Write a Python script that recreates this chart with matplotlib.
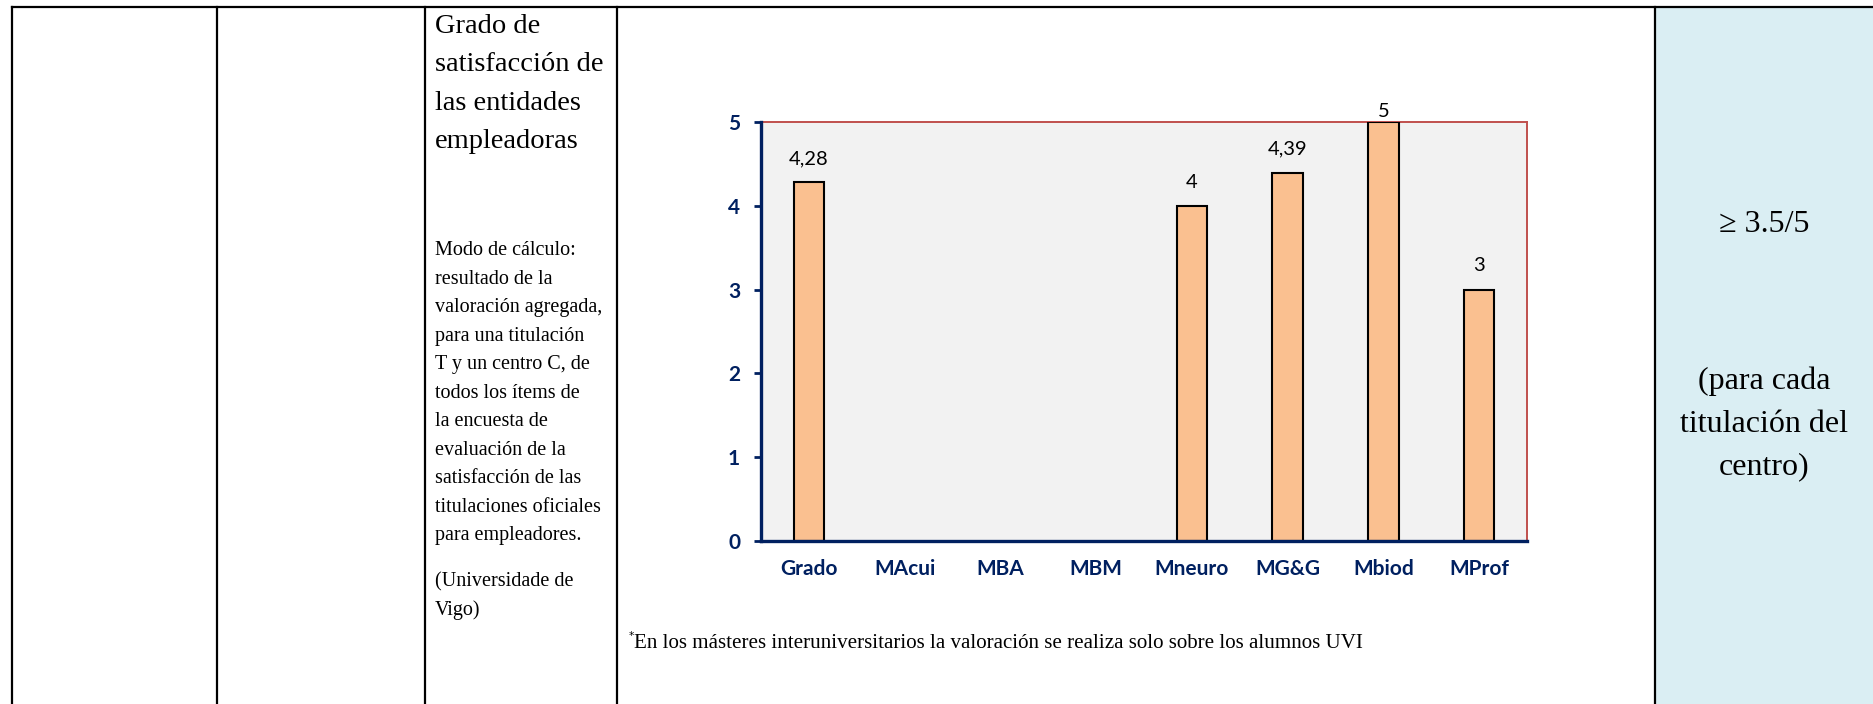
import numpy as np
import matplotlib
matplotlib.use("Agg")
from matplotlib import pyplot as plt
from matplotlib.patches import Rectangle

# data
categories = ["Grado", "MAcui", "MBA", "MBM", "Mneuro", "MG&G", "Mbiod", "MProf"]
values = [4.28, np.nan, np.nan, np.nan, 4.0, 4.39, 5.0, 3.0]
value_labels = ["4,28", "", "", "", "4", "4,39", "5", "3"]
y_ticks = [0, 1, 2, 3, 4, 5]

title_text = "Grado de\nsatisfacción de\nlas entidades\nempleadoras"
body_text = ("Modo de cálculo:\nresultado de la\nvaloración agregada,\npara una titulación\n"
             "T y un centro C, de\ntodos los ítems de\nla encuesta de\nevaluación de la\n"
             "satisfacción de las\ntitulaciones oficiales\npara empleadores.")
source_text = "(Universidade de\nVigo)"
footnote = "En los másteres interuniversitarios la valoración se realiza solo sobre los alumnos UVI"
target_text = "≥ 3.5/5"
target_note = "(para cada\ntitulación del\ncentro)"

W, H = 1874, 704
navy = "#002060"
serif = ["Liberation Serif", "DejaVu Serif"]
sans = ["Lato", "DejaVu Sans"]

fig = plt.figure(figsize=(W / 100, H / 100), dpi=100)

# background axes in pixel coordinates for the table around the chart
bg = fig.add_axes([0, 0, 1, 1])
bg.set_xlim(0, W)
bg.set_ylim(H, 0)
bg.axis("off")

bg.add_patch(Rectangle((1655, 7), W - 1655, H - 7, facecolor="#DAEEF3", edgecolor="none"))
for xv in [12, 217, 425, 617, 1655]:
    bg.plot([xv, xv], [7, H], color="black", lw=1.6)
bg.plot([12, W], [7, 7], color="black", lw=1.6)

bg.text(435, 14, title_text, family=serif, fontsize=20.5, va="top", ha="left", linespacing=1.71)
bg.text(435, 241, body_text, family=serif, fontsize=14.5, va="top", ha="left", linespacing=1.68)
bg.text(435, 572, source_text, family=serif, fontsize=14.5, va="top", ha="left", linespacing=1.63)
bg.text(626, 641, "$^*$", family=serif, fontsize=11, va="center", ha="left")
bg.text(634, 644, footnote, family=serif, fontsize=15.1, va="center", ha="left")

bg.text(1764, 224, target_text, family=serif, fontsize=23, va="center", ha="center")
bg.text(1764, 424, target_note, family=serif, fontsize=23, va="center", ha="center",
        linespacing=1.63, multialignment="center")

# chart
ax = fig.add_axes([761 / W, 1 - 541 / H, (1527 - 761) / W, (541 - 122) / H])
ax.set_facecolor("#F2F2F2")
x = np.arange(len(categories))
ax.bar(x, values, width=0.32, color="#FAC090", edgecolor="black", linewidth=1.5, zorder=3)

ymax = y_ticks[-1]
for xi, v, lab in zip(x, values, value_labels):
    if np.isnan(v):
        continue
    off = 1.5 if v >= ymax else 11
    ax.annotate(lab, (xi, v), xytext=(0, off), textcoords="offset points",
                ha="center", va="bottom", family=sans, fontsize=14.5, color="black")

ax.set_xlim(-0.5, len(categories) - 0.5)
ax.set_ylim(0, ymax)
ax.set_yticks(y_ticks)
ax.set_xticks(x)
ax.set_xticklabels(categories)

for lab in ax.get_xticklabels() + ax.get_yticklabels():
    lab.set_family(sans)
    lab.set_fontweight("bold")
    lab.set_color(navy)
    lab.set_fontsize(15)

ax.tick_params(axis="x", length=0, pad=13)
ax.tick_params(axis="y", length=5, width=2, color=navy, pad=10, direction="out")

for side in ["left", "bottom"]:
    ax.spines[side].set_color(navy)
    ax.spines[side].set_linewidth(2.4)
    ax.spines[side].set_zorder(4)
for side in ["top", "right"]:
    ax.spines[side].set_color("#C0504D")
    ax.spines[side].set_linewidth(1.4)

fig.savefig("out.png", dpi=100)
